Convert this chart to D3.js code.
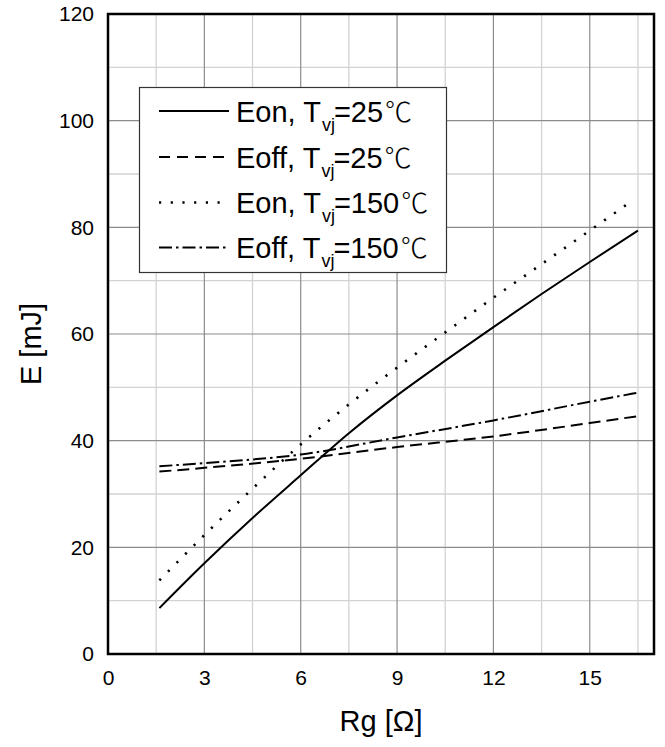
<!DOCTYPE html>
<html>
<head>
<meta charset="utf-8">
<script src="https://cdn.jsdelivr.net/npm/d3@7"></script>
<style>
  html, body { margin: 0; padding: 0; background: #fff; }
  svg { display: block; font-family: "Liberation Sans", Arial, sans-serif; }
</style>
</head>
<body>
<svg id="chart" width="665" height="747"></svg>
<script>
// ---- data ----
const rgEon25 = [1.6, 3, 4.5, 6, 7.5, 9, 10.5, 12, 13.5, 15, 16.5];
const eon25   = [8.6, 17.0, 25.5, 33.5, 41.4, 48.5, 55.0, 61.3, 67.5, 73.5, 79.4];
const rgEoff25 = [1.6, 3, 6, 9, 12, 15, 16.5];
const eoff25   = [34.2, 34.9, 36.6, 38.8, 40.8, 43.3, 44.6];
const rgEon150 = [1.6, 3, 4.5, 6, 7.5, 9, 10.5, 12, 13.5, 15, 16.3];
const eon150   = [13.8, 22.3, 31.0, 39.3, 46.8, 53.7, 60.3, 66.8, 73.1, 79.4, 84.9];
const rgEoff150 = [1.6, 3, 6, 9, 12, 15, 16.5];
const eoff150   = [35.2, 35.8, 37.4, 40.6, 43.8, 47.3, 49.0];

const xTicks = [0, 3, 6, 9, 12, 15];
const xMinor = [1.5, 4.5, 7.5, 10.5, 13.5, 16.5];
const yTicks = [0, 20, 40, 60, 80, 100, 120];
const yMinor = [10, 30, 50, 70, 90, 110];

const seriesNames = ["Eon", "Eoff", "Eon", "Eoff"];
const seriesTemps = ["25", "25", "150", "150"];

// ---- layout ----
const svg = d3.select("#chart");
const L = 108, T = 14, W = 546, H = 640;
const x = d3.scaleLinear().domain([0, 17]).range([L, L + W]);
const y = d3.scaleLinear().domain([0, 120]).range([T + H, T]);

// grid
const g = svg.append("g");
g.selectAll(".vmin").data(xMinor).join("line")
  .attr("x1", d => x(d)).attr("x2", d => x(d)).attr("y1", T).attr("y2", T + H)
  .attr("stroke", "#d2d2d2").attr("stroke-width", 1.3);
g.selectAll(".hmin").data(yMinor).join("line")
  .attr("x1", L).attr("x2", L + W).attr("y1", d => y(d)).attr("y2", d => y(d))
  .attr("stroke", "#d2d2d2").attr("stroke-width", 1.3);
g.selectAll(".vmaj").data(xTicks.slice(1)).join("line")
  .attr("x1", d => x(d)).attr("x2", d => x(d)).attr("y1", T).attr("y2", T + H)
  .attr("stroke", "#8c8c8c").attr("stroke-width", 1.2);
g.selectAll(".hmaj").data(yTicks.slice(1, -1)).join("line")
  .attr("x1", L).attr("x2", L + W).attr("y1", d => y(d)).attr("y2", d => y(d))
  .attr("stroke", "#8c8c8c").attr("stroke-width", 1.2);

// axes labels via d3 axes
const xAxis = d3.axisBottom(x).tickValues(xTicks).tickSize(0).tickPadding(16);
const yAxis = d3.axisLeft(y).tickValues(yTicks).tickSize(0).tickPadding(14);
const gx = svg.append("g").attr("transform", `translate(0,${T + H})`).call(xAxis);
const gy = svg.append("g").attr("transform", `translate(${L},0)`).call(yAxis);
[gx, gy].forEach(a => {
  a.select(".domain").remove();
  a.selectAll("text").attr("font-family", "Liberation Sans, Arial, sans-serif")
    .attr("font-size", 21).attr("fill", "#000");
});

// curves
const line = d3.line().x(d => x(d[0])).y(d => y(d[1])).curve(d3.curveMonotoneX);
const styles = [
  { dash: null, w: 2 },
  { dash: "12,6", w: 2 },
  { dash: "2.2,10", w: 2.6 },
  { dash: "13,4,2.5,4", w: 2 }
];
const series = [
  d3.zip(rgEon25, eon25),
  d3.zip(rgEoff25, eoff25),
  d3.zip(rgEon150, eon150),
  d3.zip(rgEoff150, eoff150)
];
series.forEach((s, i) => {
  svg.append("path").datum(s).attr("d", line)
    .attr("fill", "none").attr("stroke", "#000")
    .attr("stroke-width", styles[i].w)
    .attr("stroke-dasharray", styles[i].dash);
});

// frame
svg.append("rect").attr("x", L).attr("y", T).attr("width", W).attr("height", H)
  .attr("fill", "none").attr("stroke", "#000").attr("stroke-width", 2.5);

// legend
const lg = svg.append("g");
lg.append("rect").attr("x", 139.5).attr("y", 87.5).attr("width", 307).attr("height", 185)
  .attr("fill", "#fff").attr("stroke", "#333").attr("stroke-width", 1.2);
const rowY = [111, 157, 202.5, 247.5];
const legDash = [null, "11,7", "2.2,9.5", "13,4,2.5,4"];
seriesNames.forEach((nm, i) => {
  lg.append("line").attr("x1", 159).attr("x2", 229)
    .attr("y1", rowY[i]).attr("y2", rowY[i])
    .attr("stroke", "#000").attr("stroke-width", i === 2 ? 2.6 : 2)
    .attr("stroke-dasharray", legDash[i]);
  const t = lg.append("text").attr("x", 236).attr("y", rowY[i] + 10.5)
    .attr("font-size", 29).attr("fill", "#000");
  t.append("tspan").text(nm + ", T");
  t.append("tspan").attr("font-size", 18).attr("dy", 9).attr("dx", 1).text("vj");
  t.append("tspan").attr("dy", -9).attr("dx", -1).text("=" + seriesTemps[i]);
  t.append("tspan").attr("font-family", "Noto Sans CJK SC").attr("font-weight", 300)
    .attr("font-size", 27).attr("dx", 2).text("℃");
});

// axis titles
svg.append("text").attr("x", x(8.5)).attr("y", 731).attr("text-anchor", "middle")
  .attr("font-size", 29).attr("fill", "#000").text("Rg [Ω]");
svg.append("text").attr("transform", "translate(41,344) rotate(-90)")
  .attr("text-anchor", "middle").attr("font-size", 29).attr("fill", "#000").text("E [mJ]");
</script>
</body>
</html>
